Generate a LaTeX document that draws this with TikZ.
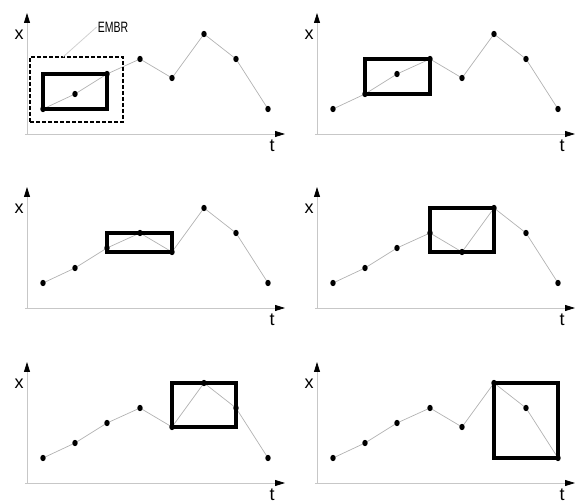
\documentclass[tikz,border=0pt]{standalone}
\usepackage{fontspec}
\setmainfont{Liberation Sans}
\usetikzlibrary{arrows.meta}

\tikzset{
  axis/.style={draw=black!22, line width=0.8pt,
    -{Triangle[length=10pt, width=6pt, color=black]}},
  series/.style={draw=black!30, line width=0.7pt},
  mbr/.style={draw=black, line width=3.2pt},
  embr/.style={draw=black, line width=1.1pt, dash pattern=on 4pt off 2pt},
  leader/.style={draw=black!18, line width=0.8pt},
  axislabel/.style={font=\fontsize{18}{18}\selectfont, inner sep=0pt},
}

\begin{document}
\begin{tikzpicture}[x=1pt, y=1pt]
  \useasboundingbox (0,0) rectangle (581,503);

  % one panel per window of three samples: origin, first sample, lowest, highest
  \foreach \ox/\oy/\k/\lo/\hi in {27/369/1/1/3, 317/369/2/2/4,
      27/195/3/5/4, 317/195/4/5/6, 27/20/5/5/6, 317/20/6/8/6} {
    \begin{scope}[shift={(\ox,\oy)}]
      \pgfmathtruncatemacro\kk{\k+2}
      \coordinate (o) at (0,0);
      \coordinate (tstart) at (-2,0);
      \coordinate (tend) at (258,0);
      \coordinate (xend) at (0,121);
      \foreach \t/\x [count=\i] in {16/25, 48/40, 80/60, 113/75, 145/56,
          177/100, 209/75, 241/25}
        \coordinate (p\i) at (\t,\x);

      \draw[axis] (tstart) -- (tend);
      \draw[axis] (o) -- (xend);
      \node[axislabel] (xlab) at (-8,99) {x};
      \node[axislabel] (tlab) at (245,-12) {t};

      \draw[series] (p1) \foreach \i in {2,...,8} {-- (p\i)};
      \draw[mbr] (p\k |- p\lo) rectangle (p\kk |- p\hi);
      \foreach \i in {1,...,8}
        \fill (p\i) ellipse [x radius=2.7pt, y radius=3.2pt];
    \end{scope}
  }

  % extended box of the first window
  \begin{scope}[shift={(27,369)}]
    \coordinate (esw) at (3,12);
    \coordinate (ene) at (96,77);
    \coordinate (efoot) at (36,77);
    \draw[embr] (esw) rectangle (ene);
    \node[font=\fontsize{15}{15}\selectfont, inner sep=1pt] (embrlab) at (86,107)
      {\scalebox{0.7}[1]{EMBR}};
    \draw[leader] (embrlab.west) -- (efoot);
  \end{scope}
\end{tikzpicture}
\end{document}
